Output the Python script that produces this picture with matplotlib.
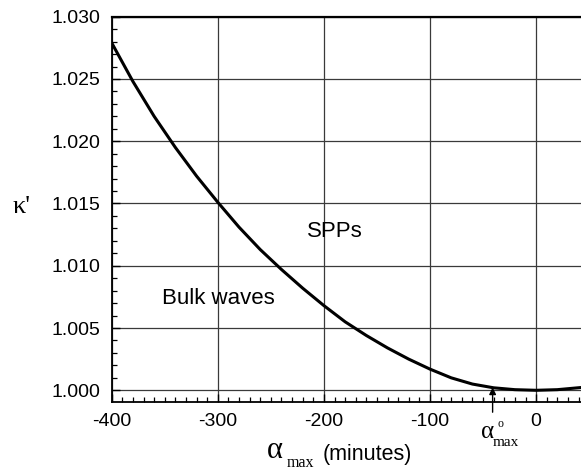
import matplotlib
matplotlib.use("Agg")
import matplotlib.pyplot as plt
from matplotlib.ticker import MultipleLocator, FormatStrFormatter

plt.rcParams["axes.unicode_minus"] = False

# values
alpha_max = [-400, -380, -360, -340, -320, -300, -280, -260, -240, -220, -200,
             -180, -160, -140, -120, -100, -80, -60, -40, -20, 0, 20, 42]
kappa = [1.0279, 1.0248, 1.0220, 1.0195, 1.0172, 1.0151, 1.0131, 1.0113, 1.0097,
         1.0082, 1.0068, 1.0055, 1.0044, 1.0034, 1.0025, 1.0017, 1.0010, 1.0005,
         1.0002, 1.00005, 1.0000, 1.00005, 1.00022]
alpha0 = -41

W, H = 581, 472
fig = plt.figure(figsize=(W / 100, H / 100), dpi=100)
ax = fig.add_axes([111.7 / W, 1 - 402 / H, 1 - 111.7 / W, (402 - 16.7) / H])

ax.plot(alpha_max, kappa, color="black", lw=2.2, zorder=3,
        solid_joinstyle="round", solid_capstyle="round")

ax.set_xlim(-400, 42.3)
ax.set_ylim(0.99906, 1.030)
ax.xaxis.set_major_locator(MultipleLocator(100))
ax.xaxis.set_minor_locator(MultipleLocator(10))
ax.yaxis.set_major_locator(MultipleLocator(0.005))
ax.yaxis.set_minor_locator(MultipleLocator(0.001))
ax.yaxis.set_major_formatter(FormatStrFormatter("%.3f"))
ax.grid(True, which="major", color="#3a3a3a", lw=0.9)
ax.set_axisbelow(True)

ax.tick_params(which="both", direction="in", top=False, right=False, color="black")
ax.tick_params(which="major", length=5.5, width=1.0, pad=8, labelsize=14)
ax.tick_params(which="minor", length=3.5, width=0.9)
for lab in ax.get_xticklabels() + ax.get_yticklabels():
    lab.set_fontfamily("Liberation Sans")
ax.spines["right"].set_visible(False)
ax.spines["top"].set_linewidth(1.6)
ax.spines["left"].set_linewidth(1.3)
ax.spines["bottom"].set_linewidth(1.3)

ax.text(-189.5, 1.01229, "SPPs", fontsize=16, family="Liberation Sans",
        ha="center", va="baseline")
ax.text(-352.6, 1.0069, "Bulk waves", fontsize=16, family="Liberation Sans",
        ha="left", va="baseline")

# arrow marking alpha0
ax.annotate("", xy=(alpha0, 1.00023), xytext=(alpha0, 0.99824),
            arrowprops=dict(arrowstyle="-|>", color="black", lw=1.0,
                            mutation_scale=10, shrinkA=0, shrinkB=0),
            annotation_clip=False)

def px(x, y):
    return x / W, 1 - y / H

fig.text(*px(481, 438), "α", family="Liberation Serif", fontsize=18, va="baseline")
fig.text(*px(497, 427), "o", family="Liberation Serif", fontsize=8.5, va="baseline")
fig.text(*px(493, 446), "max", family="Liberation Serif", fontsize=11, va="baseline")

# y label
fig.text(*px(13, 213), "κ'", family="Liberation Serif", fontsize=19, va="baseline")

# x label
fig.text(*px(267, 458), "α", family="Liberation Serif", fontsize=22, va="baseline")
fig.text(*px(287, 467), "max", family="Liberation Serif", fontsize=11.5, va="baseline")
fig.text(*px(323, 460), "(minutes)", family="Liberation Sans", fontsize=15.5, va="baseline")

fig.savefig("out.png", dpi=100)
